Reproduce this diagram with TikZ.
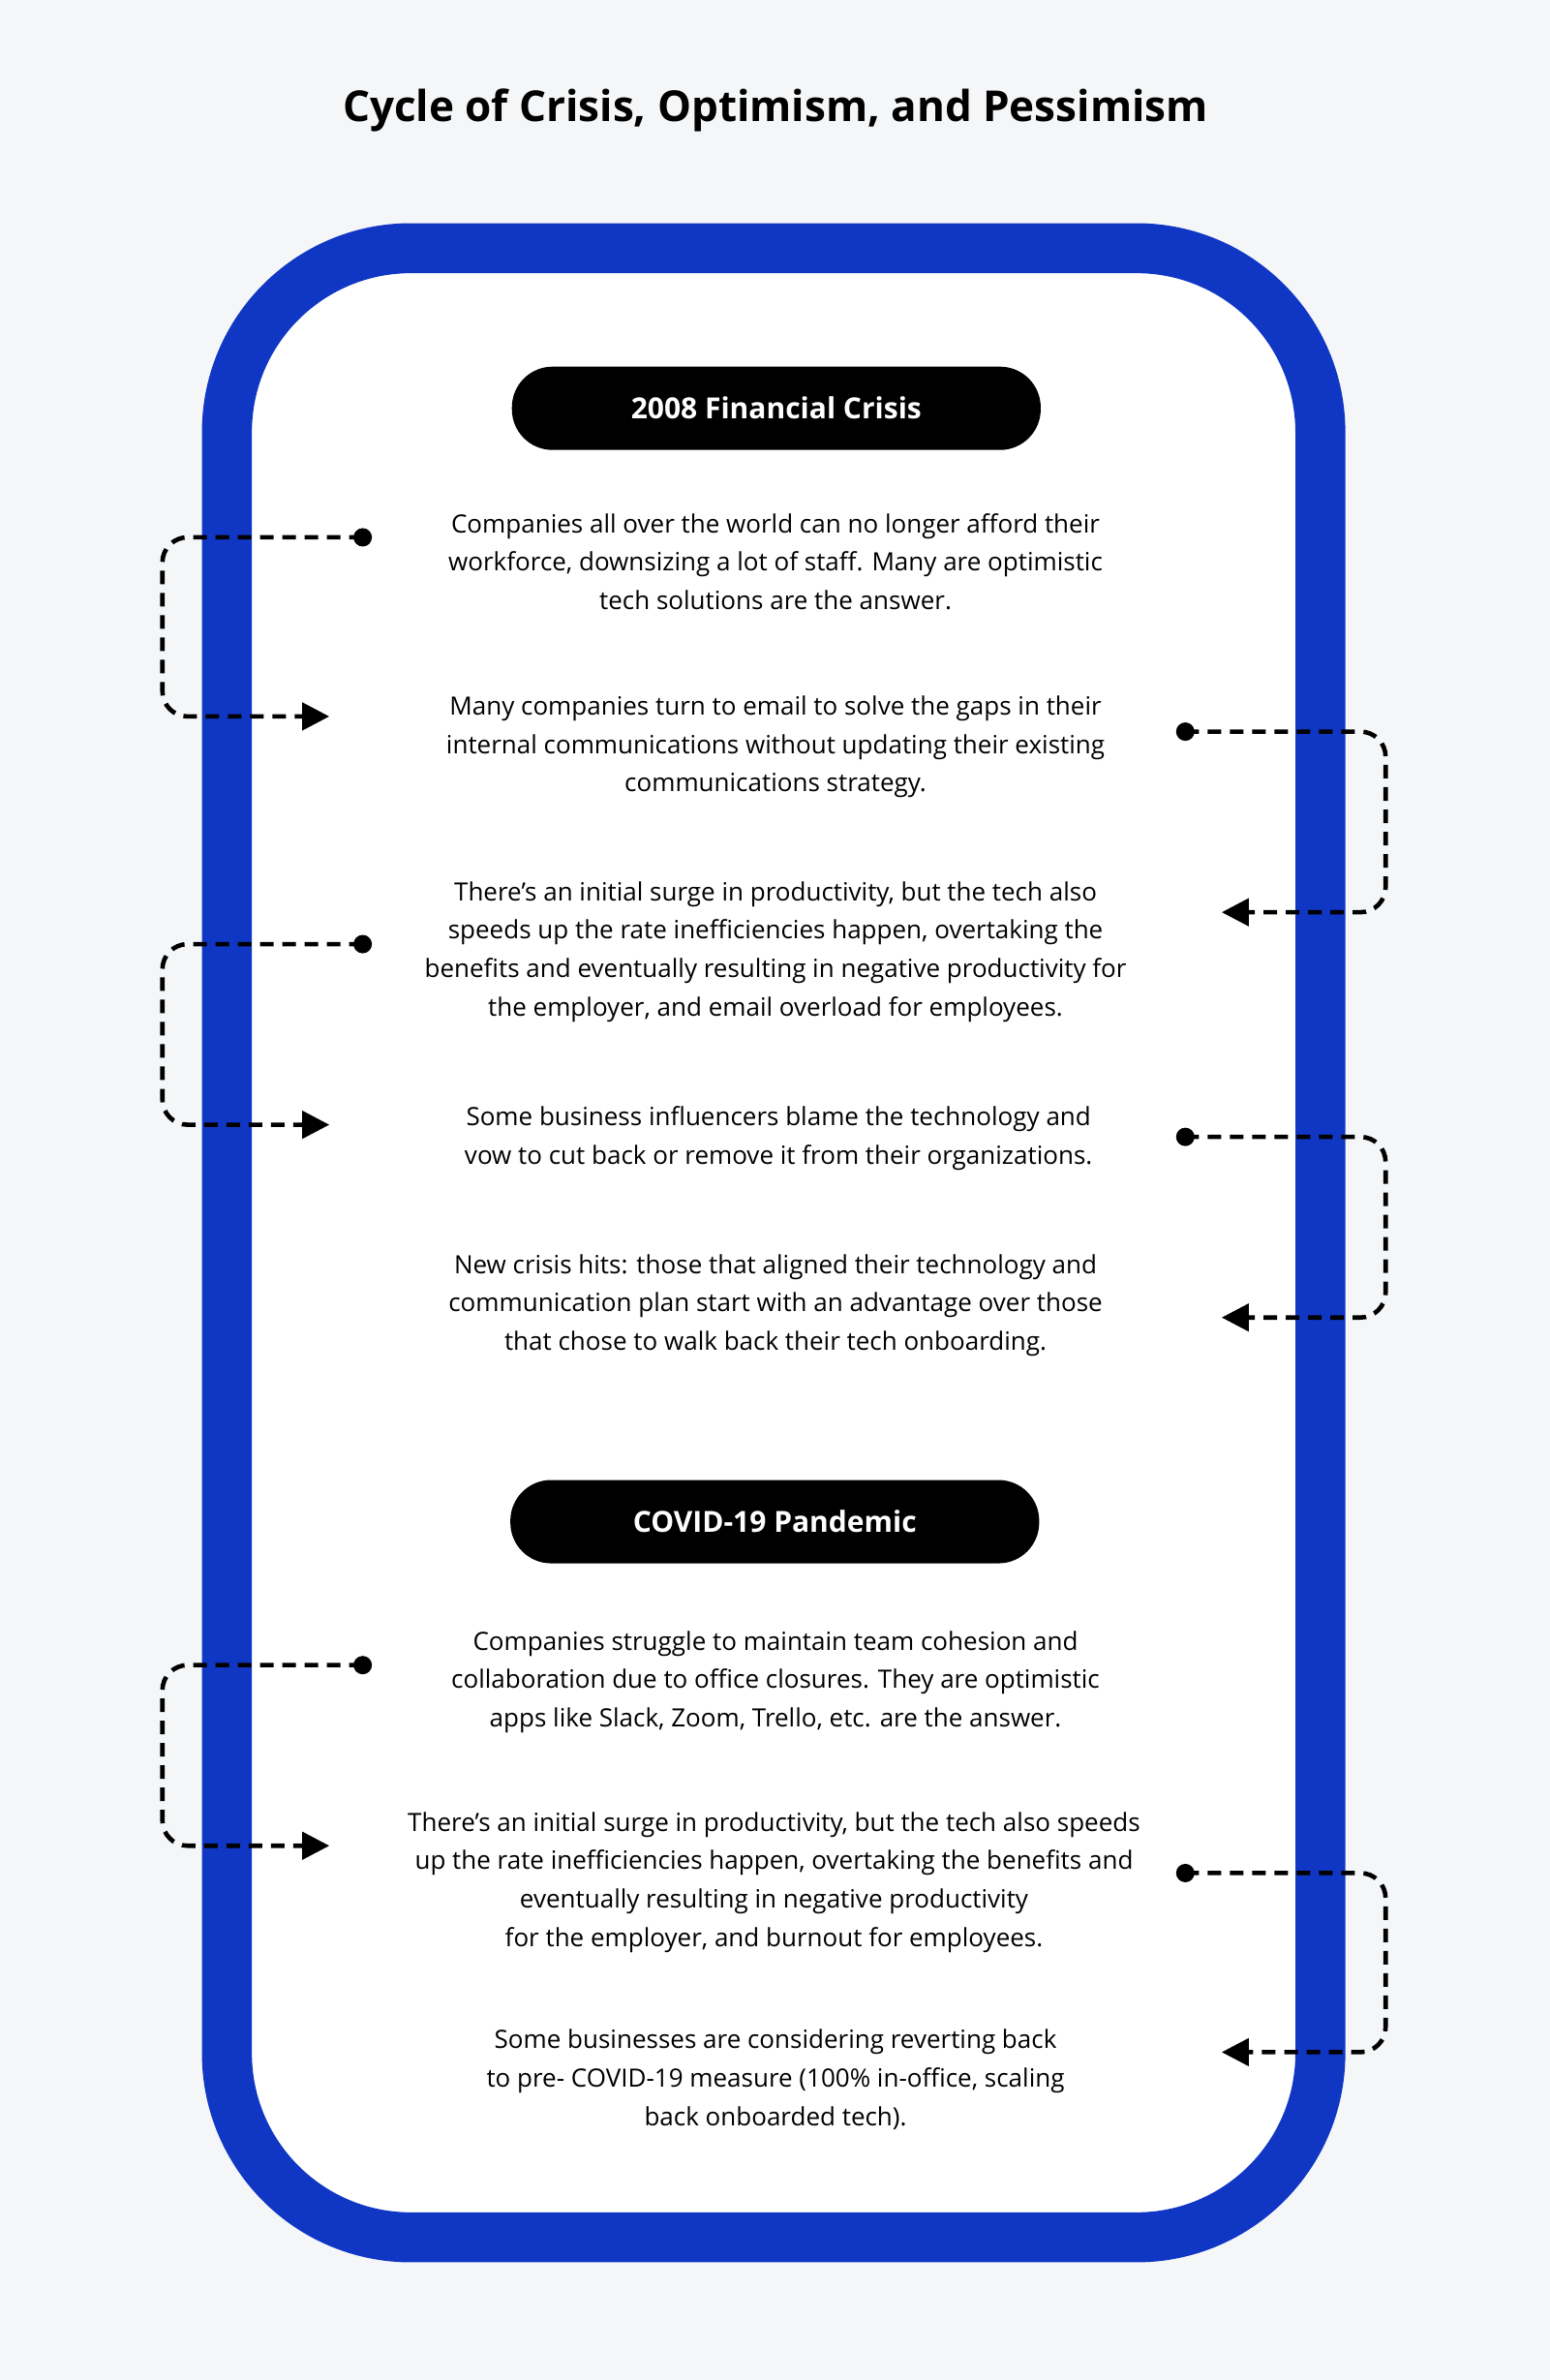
\documentclass[tikz,border=0pt]{standalone}
\usepackage{fontspec}
\setmainfont{Open Sans}
\usetikzlibrary{arrows.meta}
\definecolor{bg}{HTML}{F4F6F8}
\definecolor{frame}{HTML}{1036C4}
\begin{document}
\begin{tikzpicture}[x=0.7835pt,y=-0.7835pt,
  txt/.style={align=center,font=\fontsize{13}{19.8}\selectfont,text=black},
  pill/.style={fill=black,rounded corners=21pt,minimum width=273pt,minimum height=43pt,text=white,font=\fontsize{15}{18}\selectfont\bfseries},
  conn/.style={line width=2.3pt,dash pattern=on 7pt off 4.5pt,rounded corners=13pt,-{Triangle[length=14pt,width=14pt]}},
  dotn/.style={circle,fill=black,inner sep=0pt,minimum size=9.5pt}]
\fill[bg] (0,0) rectangle (1021,1568);
\useasboundingbox (0,0) rectangle (1021,1568);
\node[font=\fontsize{22}{26}\selectfont\bfseries] (title) at (511,73) {Cycle of Crisis, Optimism, and Pessimism};
\draw[frame,line width=25.8pt,fill=white,rounded corners=95pt] (149.5,163.5) rectangle (870,1474);
\node[pill] (p1) at (511.5,269) {2008 Financial Crisis};
\node[pill] (p2) at (510.5,1002.5) {COVID-19 Pandemic};
\node[txt] (t1) at (511,370) {Companies all over the world can no longer afford their\\workforce, downsizing a lot of staff. Many are optimistic\\tech solutions are the answer.};
\node[txt] (t2) at (511,492) {Many companies turn to email to solve the gaps in their\\internal communications without updating their existing\\communications strategy.};
\node[txt] (t3) at (511,627) {There's an initial surge in productivity, but the tech also\\speeds up the rate inefficiencies happen, overtaking the\\benefits and eventually resulting in negative productivity for\\the employer, and email overload for employees.};
\node[txt] (t4) at (513,750) {Some business influencers blame the technology and\\vow to cut back or remove it from their organizations.};
\node[txt] (t5) at (511,860) {New crisis hits: those that aligned their technology and\\communication plan start with an advantage over those\\that chose to walk back their tech onboarding.};
\node[txt] (t6) at (511,1108) {Companies struggle to maintain team cohesion and\\collaboration due to office closures. They are optimistic\\apps like Slack, Zoom, Trello, etc. are the answer.};
\node[txt] (t7) at (510,1240) {There's an initial surge in productivity, but the tech also speeds\\up the rate inefficiencies happen, overtaking the benefits and\\eventually resulting in negative productivity\\for the employer, and burnout for employees.};
\node[txt] (t8) at (511,1370) {Some businesses are considering reverting back\\to pre- COVID-19 measure (100\% in-office, scaling\\back onboarded tech).};
% left connectors
\foreach \i/\ya/\yb in {1/354/472,2/622/741,3/1097/1216}{
  \node[dotn] (ld\i) at (239,\ya) {};
  \coordinate (la\i) at (217,\yb);
  \draw[conn] (ld\i.center) -- (107,\ya) -- (107,\yb) -- (la\i);
}
% right connectors
\foreach \i/\ya/\yb in {1/482/601,2/749/868,3/1234/1352}{
  \node[dotn] (rd\i) at (781,\ya) {};
  \coordinate (ra\i) at (805,\yb);
  \draw[conn] (rd\i.center) -- (913,\ya) -- (913,\yb) -- (ra\i);
}
\end{tikzpicture}
\end{document}
